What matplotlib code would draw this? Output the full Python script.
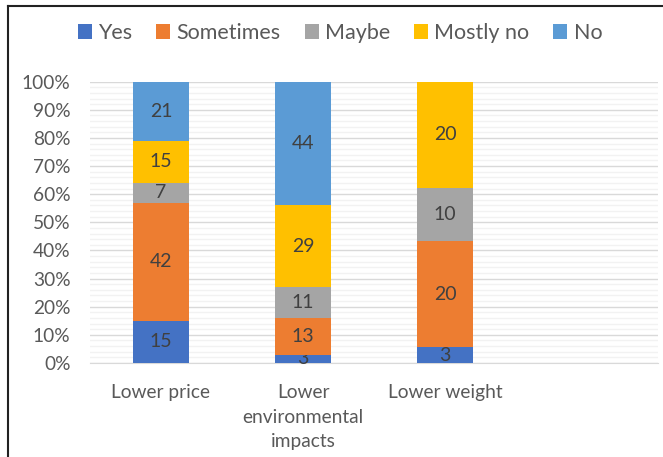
import matplotlib
matplotlib.use("Agg")
import matplotlib.pyplot as plt
import numpy as np
from matplotlib.lines import Line2D
from matplotlib.ticker import MultipleLocator, PercentFormatter

plt.rcParams["font.family"] = ["Lato", "DejaVu Sans"]

# Answers per category (raw counts, shown as labels; bars are 100% stacked)
categories = ["Lower price", "Lower\nenvironmental\nimpacts", "Lower weight"]
series_names = ["Yes", "Sometimes", "Maybe", "Mostly no", "No"]
yes = [15, 3, 3]
sometimes = [42, 13, 20]
maybe = [7, 11, 10]
mostly_no = [15, 29, 20]
no = [21, 44, 0]

colors = ["#4472C4", "#ED7D31", "#A5A5A5", "#FFC000", "#5B9BD5"]
text_grey = "#595959"

fig = plt.figure(figsize=(6.63, 4.57), dpi=100)
ax = fig.add_axes([0.1357, 0.2057, 0.857, 0.6155])

data = np.array([yes, sometimes, maybe, mostly_no, no], dtype=float)
totals = data.sum(axis=0)
pct = data / totals * 100

x = np.arange(len(categories))
bottom = np.zeros(len(categories))
for name, vals, raw, col in zip(series_names, pct, data, colors):
    bars = ax.bar(x, vals, 0.4, bottom=bottom, color=col, label=name, zorder=3)
    labels = [f"{int(v)}" if v > 0 else "" for v in raw]
    ax.bar_label(bars, labels=labels, label_type="center", color="#404040",
                 fontsize=14)
    bottom += vals

ax.set_xlim(-0.5, 3.5)
ax.set_ylim(0, 100)
ax.set_xticks(x)
ax.set_xticklabels(categories)
ax.yaxis.set_major_locator(MultipleLocator(10))
ax.yaxis.set_minor_locator(MultipleLocator(2))
ax.yaxis.set_major_formatter(PercentFormatter(decimals=0))
ax.grid(axis="y", which="major", color="#D9D9D9", lw=1, zorder=0)
ax.grid(axis="y", which="minor", color="#F2F2F2", lw=1, zorder=0)
ax.tick_params(axis="both", which="both", length=0, colors=text_grey,
               labelsize=13.8)
ax.tick_params(axis="y", pad=14)
ax.tick_params(axis="x", pad=15)
for s in ["top", "right", "left"]:
    ax.spines[s].set_visible(False)
ax.spines["bottom"].set_color("#D9D9D9")
for t in ax.get_xticklabels():
    t.set_linespacing(1.55)
    t.set_verticalalignment("top")

leg = fig.legend(loc="center", bbox_to_anchor=(0.513, 0.928), ncol=5,
                 frameon=False, fontsize=15.5, handlelength=0.65,
                 handleheight=0.65, handletextpad=0.3, columnspacing=1.1)
for t in leg.get_texts():
    t.set_color(text_grey)

# chart border (top and left edges visible)
fig.add_artist(Line2D([0.012, 0.012], [0, 0.987], color="#222222", lw=1.5))
fig.add_artist(Line2D([0.012, 1.0], [0.987, 0.987], color="#222222", lw=1.5))

fig.savefig("out.png", dpi=100)
